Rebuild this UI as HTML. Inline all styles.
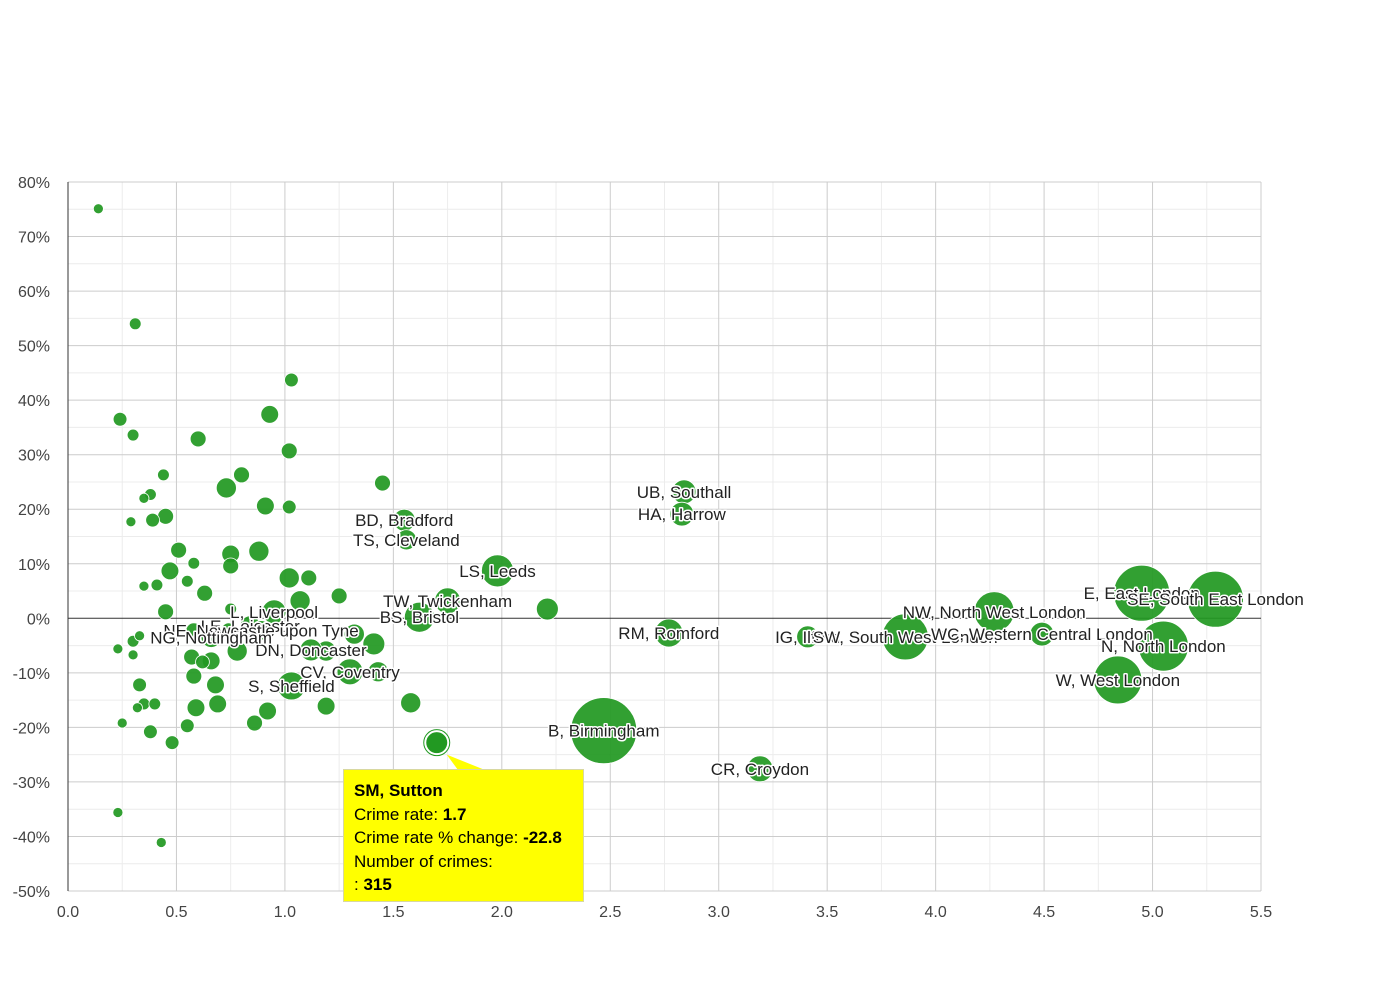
<!DOCTYPE html>
<html><head><meta charset="utf-8"><style>
body{margin:0;background:#fff;font-family:"Liberation Sans",Arial,sans-serif}
svg text{font-family:"Liberation Sans",Arial,sans-serif}
#tip{position:absolute;left:343px;top:769px;width:241px;height:133px;background:#ffff00;border:1px solid #d8d8a0;box-sizing:border-box;padding:9px 10px;font-size:17px;line-height:23.5px;color:#000}
</style></head><body>
<div style="position:relative;width:1390px;height:980px">
<svg id="chart" width="1390" height="980"></svg>
<div id="tip"><b>SM, Sutton</b><br>Crime rate: <b>1.7</b><br>Crime rate % change: <b>-22.8</b><br>Number of crimes:<br>: <b>315</b></div>
</div>
<script>
const xTicks=[0,0.5,1,1.5,2,2.5,3,3.5,4,4.5,5,5.5];
const xTickLabels=["0.0","0.5","1.0","1.5","2.0","2.5","3.0","3.5","4.0","4.5","5.0","5.5"];
const yTicks=[80,70,60,50,40,30,20,10,0,-10,-20,-30,-40,-50];
const yTickLabels=["80%","70%","60%","50%","40%","30%","20%","10%","0%","-10%","-20%","-30%","-40%","-50%"];
const names=["UB, Southall","HA, Harrow","BD, Bradford","TS, Cleveland","LS, Leeds","TW, Twickenham","BS, Bristol","","RM, Romford","B, Birmingham","CR, Croydon","IG, Ilford","SW, South West London","NW, North West London","WC, Western Central London","E, East London","SE, South East London","N, North London","W, West London","L, Liverpool","LE, Leicester","NE, Newcastle upon Tyne","DN, Doncaster","CV, Coventry","S, Sheffield","NG, Nottingham"];
const rates=[2.84,2.83,1.55,1.56,1.98,1.75,1.62,2.21,2.77,2.47,3.19,3.41,3.86,4.27,4.49,4.95,5.29,5.05,4.84,0.95,0.84,0.89,1.12,1.30,1.03,0.66];
const changes=[23.2,19.1,18.0,14.4,8.7,3.2,0.2,1.7,-2.7,-20.6,-27.6,-3.4,-3.4,1.2,-2.9,4.6,3.5,-5.1,-11.3,1.2,-1.4,-2.2,-5.8,-9.8,-12.4,-3.5];
const crimes=[450,450,380,320,810,530,710,380,620,3440,530,380,1670,1260,450,2470,2470,1970,1820,450,320,300,380,530,620,320];
const smallRates=[.14,.31,1.03,.24,.93,.30,.60,1.02,.44,.80,.73,1.45,.38,.35,.45,.39,.29,.91,1.02,.51,.75,.88,.58,.75,.47,1.02,1.11,.55,.35,.41,.63,1.25,.45,.75,1.07,.23,.30,.33,.30,.57,.66,.78,1.32,1.41,1.19,1.43,.58,.33,.68,.35,.40,.32,.59,.69,.92,1.19,1.58,.25,.55,.86,.38,.48,.23,.43,.58,.67,.74,.62];
const smallChanges=[75.1,54.0,43.7,36.5,37.4,33.6,32.9,30.7,26.3,26.3,23.9,24.8,22.7,22.0,18.7,18.0,17.7,20.6,20.4,12.5,11.8,12.3,10.1,9.6,8.7,7.4,7.4,6.8,5.9,6.1,4.6,4.1,1.2,1.7,3.2,-5.6,-4.2,-3.2,-6.7,-7.1,-7.8,-6.0,-2.9,-4.7,-6.0,-9.8,-10.6,-12.2,-12.2,-15.7,-15.7,-16.4,-16.4,-15.7,-17.0,-16.1,-15.5,-19.2,-19.7,-19.2,-20.8,-22.8,-35.6,-41.1,-2.3,-3.2,-2.1,-8.0];
const smallCrimes=[80,110,150,150,250,110,200,200,110,200,320,200,110,80,200,150,80,250,150,200,250,320,110,200,250,320,200,110,80,110,200,200,200,110,320,80,110,80,80,200,250,320,320,380,320,320,200,150,250,110,110,80,250,250,250,250,320,80,150,200,150,150,80,80,200,200,150,150];
const sutton={name:"SM, Sutton",rate:1.7,change:-22.8,crimes:315};

const NS="http://www.w3.org/2000/svg";
const svg=document.getElementById('chart');
const X0=68,X1=1261,Y0=182,Y1=891;
const sx=v=>X0+(v/5.5)*(X1-X0);
const sy=v=>Y0+((80-v)/130)*(Y1-Y0);
const sr=c=>0.563*Math.sqrt(c);
function mk(t,a){const e=document.createElementNS(NS,t);for(const k in a)e.setAttribute(k,a[k]);svg.appendChild(e);return e;}
// minor grid
for(let i=0;i<11;i++){const v=0.25+i*0.5;const l=mk('line',{x1:sx(v),x2:sx(v),y1:Y0,y2:Y1,stroke:'#ececec'});

}
for(let i=0;i<13;i++){const v=75-i*10;const l=mk('line',{x1:X0,x2:X1,y1:sy(v),y2:sy(v),stroke:'#ececec'});

}
xTicks.forEach((v,i)=>{const l=mk('line',{x1:sx(v),x2:sx(v),y1:Y0,y2:Y1,stroke:'#cccccc'});


const t=mk('text',{x:sx(v),y:917,'text-anchor':'middle','font-size':16,fill:'#444'});t.textContent=xTickLabels[i];

});
yTicks.forEach((v,i)=>{const l=mk('line',{x1:X0,x2:X1,y1:sy(v),y2:sy(v),stroke:v===0?'#333':'#cccccc'});


const t=mk('text',{x:50,y:sy(v)+6,'text-anchor':'end','font-size':16,fill:'#444'});t.textContent=yTickLabels[i];

});
const ax=mk('line',{x1:X0,x2:X0,y1:Y0,y2:Y1,stroke:'#333'});


smallRates.forEach((v,i)=>{const c=mk('circle',{cx:sx(v),cy:sy(smallChanges[i]),r:sr(smallCrimes[i]),fill:'#229922','fill-opacity':0.93,stroke:'#fff','stroke-width':0.8});

});
rates.forEach((v,i)=>{const c=mk('circle',{cx:sx(v),cy:sy(changes[i]),r:sr(crimes[i]),fill:'#229922','fill-opacity':0.93,stroke:'#fff','stroke-width':0.8});

});
const sc=mk('circle',{cx:sx(sutton.rate),cy:sy(sutton.change),r:sr(sutton.crimes)+1.5,fill:'#229922',stroke:'#fff','stroke-width':2});


const so=mk('circle',{cx:sx(sutton.rate),cy:sy(sutton.change),r:sr(sutton.crimes)+3,fill:'none',stroke:'#229922','stroke-width':1});


rates.forEach((v,i)=>{if(!names[i])return;const t=mk('text',{x:sx(v),y:sy(changes[i])+6,'text-anchor':'middle','font-size':17,fill:'#222',stroke:'#fff','stroke-width':3,'paint-order':'stroke','stroke-linejoin':'round'});t.textContent=names[i];

});
const p=mk('polygon',{points:`${sx(sutton.rate)+10},${sy(sutton.change)+12} 458,770 485,770`,fill:'#ffff00'});


</script>
</body></html>
